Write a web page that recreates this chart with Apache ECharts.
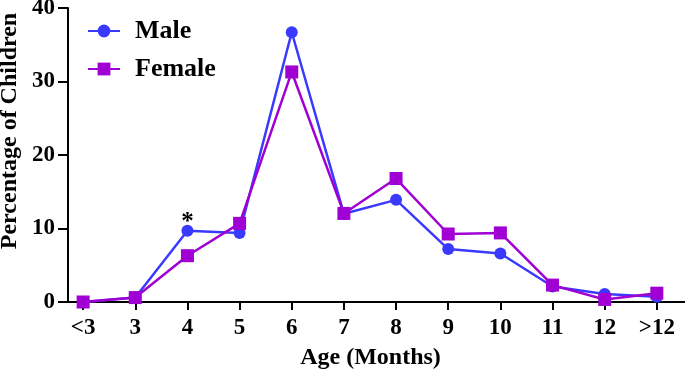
<!DOCTYPE html>
<html>
<head>
<meta charset="utf-8">
<script src="https://cdn.jsdelivr.net/npm/echarts@6/dist/echarts.min.js"></script>
<style>
  html, body { margin: 0; padding: 0; background: #fff; }
  #chart { width: 685px; height: 372px; }
</style>
</head>
<body>
<div id="chart"></div>
<script>
// 年龄分组
const categories = ['<3', '3', '4', '5', '6', '7', '8', '9', '10', '11', '12', '>12']
const maleData = [0, 0.6, 9.7, 9.4, 36.7, 12.0, 13.9, 7.2, 6.6, 2.1, 1.1, 0.7]
const femaleData = [0, 0.6, 6.3, 10.7, 31.3, 12.05, 16.8, 9.25, 9.4, 2.3, 0.35, 1.2]
const yTicks = [0, 10, 20, 30, 40]
const starIndex = 2 // 显著差异

const font = 'Liberation Serif'
const maleColor = '#3a3aff'
const femaleColor = '#a000d4'

const chart = echarts.init(document.getElementById('chart'))

const toPoints = arr => arr.map((v, i) => [i, v])

const malePoints = toPoints(maleData).map((p, i) => {
  if (i !== starIndex) return p
  return {
    value: p,
    label: {
      show: true,
      position: 'top',
      formatter: '*',
      color: '#000',
      fontFamily: font,
      fontWeight: 'bold',
      fontSize: 25,
      offset: [0, 15]
    }
  }
})

const option = {
  animation: false,
  grid: { left: 68, right: 0, top: 8, bottom: 70, outerBoundsMode: 'none', containLabel: false },
  legend: {
    left: 82,
    top: 13,
    orient: 'vertical',
    itemGap: 12,
    itemWidth: 32,
    itemHeight: 16,
    textStyle: { fontFamily: font, fontWeight: 'bold', fontSize: 26, color: '#000', padding: [0, 0, 0, 10] },
    data: ['Male', 'Female']
  },
  xAxis: {
    type: 'value',
    min: -0.29,
    max: 11.54,
    name: 'Age (Months)',
    nameLocation: 'middle',
    nameGap: 44,
    nameMoveOverlap: false,
    nameTextStyle: { fontFamily: font, fontWeight: 'bold', fontSize: 24, color: '#000', padding: [0, 12, 0, 0] },
    axisLine: { show: true, onZero: false, lineStyle: { color: '#000', width: 2 } },
    axisTick: { show: true, inside: false, length: 8, lineStyle: { color: '#000', width: 2 }, customValues: categories.map((c, i) => i) },
    axisLabel: {
      color: '#000', fontFamily: font, fontWeight: 'bold', fontSize: 23, margin: 15,
      customValues: categories.map((c, i) => i),
      formatter: v => categories[Math.round(v)]
    },
    splitLine: { show: false }
  },
  yAxis: {
    type: 'value',
    min: 0,
    max: 40,
    interval: 10,
    name: 'Percentage of Children',
    nameLocation: 'middle',
    nameGap: 46,
    nameMoveOverlap: false,
    nameTextStyle: { fontFamily: font, fontWeight: 'bold', fontSize: 24, color: '#000', padding: [0, 0, 0, 48] },
    axisLine: { show: true, onZero: false, lineStyle: { color: '#000', width: 2 } },
    axisTick: { show: true, length: 10, lineStyle: { color: '#000', width: 2 } },
    axisLabel: {
      color: '#000', fontFamily: font, fontWeight: 'bold', fontSize: 23, margin: 13,
      formatter: v => yTicks.includes(v) ? String(v) : ''
    },
    splitLine: { show: false }
  },
  series: [
    {
      name: 'Male',
      type: 'line',
      data: malePoints,
      symbol: 'circle',
      symbolSize: 12,
      itemStyle: { color: maleColor },
      lineStyle: { color: maleColor, width: 2.5 },
      z: 2
    },
    {
      name: 'Female',
      type: 'line',
      data: toPoints(femaleData),
      symbol: 'rect',
      symbolSize: 13,
      itemStyle: { color: femaleColor },
      lineStyle: { color: femaleColor, width: 2.5 },
      z: 3
    }
  ]
}

chart.setOption(option)
</script>
</body>
</html>
